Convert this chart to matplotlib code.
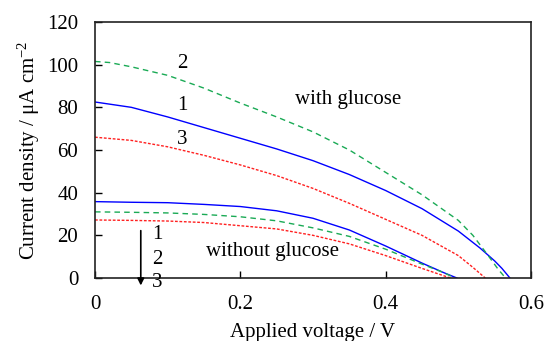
import matplotlib
matplotlib.use("Agg")
import matplotlib.pyplot as plt

plt.rcParams['font.family'] = ['Liberation Serif', 'DejaVu Serif']
plt.rcParams['mathtext.fontset'] = 'custom'
plt.rcParams['mathtext.rm'] = 'Liberation Serif'
plt.rcParams['mathtext.it'] = 'Liberation Serif:italic'

# With glucose
x_w1 = [0, 0.02, 0.05, 0.1, 0.15, 0.2, 0.25, 0.3, 0.35, 0.4, 0.45, 0.5, 0.53, 0.55, 0.56, 0.571]
y_w1 = [82.5, 81.5, 80, 75.5, 70.5, 65.5, 60.5, 55, 48.5, 41, 32.5, 22, 14, 8, 4.5, 0]
x_w2 = [0, 0.02, 0.05, 0.1, 0.15, 0.2, 0.25, 0.3, 0.35, 0.4, 0.45, 0.5, 0.52, 0.54, 0.555, 0.565]
y_w2 = [101.5, 101, 99, 95, 89, 82, 75.5, 68.5, 60, 49.5, 39, 27, 20, 11, 4, 0]
x_w3 = [0, 0.05, 0.1, 0.15, 0.2, 0.25, 0.3, 0.35, 0.4, 0.45, 0.5, 0.52, 0.537]
y_w3 = [66, 64.5, 61.5, 57.5, 53, 48, 42, 35, 27.5, 20, 10.5, 5, 0]

# Without glucose
x_n1 = [0, 0.05, 0.1, 0.15, 0.2, 0.25, 0.3, 0.35, 0.4, 0.45, 0.48, 0.498]
y_n1 = [35.8, 35.5, 35.3, 34.5, 33.5, 31.5, 28, 22.5, 15, 7, 2.5, 0]
x_n2 = [0, 0.05, 0.1, 0.15, 0.2, 0.25, 0.3, 0.35, 0.4, 0.45, 0.48, 0.495]
y_n2 = [31, 30.8, 30.5, 29.8, 28.7, 26.8, 23.5, 19.5, 13.5, 6.5, 2.5, 0]
x_n3 = [0, 0.05, 0.1, 0.15, 0.2, 0.25, 0.3, 0.35, 0.4, 0.45, 0.489]
y_n3 = [27.2, 27, 26.7, 26, 24.5, 23, 20, 16, 10.5, 4.5, 0]

xticks = [0, 0.2, 0.4, 0.6]
xticklabels = ['0', '0.2', '0.4', '0.6']
yticks = [0, 20, 40, 60, 80, 100, 120]

fig = plt.figure(figsize=(5.47, 3.41), dpi=100)
ax = fig.add_axes([95/547, 1-278/341, (531-95)/547, (278-22)/341])

blue = '#0000ff'
green = '#1aaa55'
red = '#ff2020'
lw = 1.0
ax.plot(x_w1, y_w1, color=blue, lw=lw)
ax.plot(x_w2, y_w2, color=green, lw=lw, dashes=(4, 3))
ax.plot(x_w3, y_w3, color=red, lw=lw, dashes=(2, 1.2))
ax.plot(x_n1, y_n1, color=blue, lw=lw)
ax.plot(x_n2, y_n2, color=green, lw=lw, dashes=(4, 3))
ax.plot(x_n3, y_n3, color=red, lw=lw, dashes=(2, 1.2))

ax.set_xlim(0, 0.6)
ax.set_ylim(0, 120)
ax.set_xticks(xticks)
ax.set_xticklabels(xticklabels)
ax.set_yticks(yticks)
ax.tick_params(direction='in', length=5, width=1, labelsize=15, pad=12, top=False, right=False)
for s in ax.spines.values():
    s.set_linewidth(1.2)
    s.set_color('#222222')

fs = 15
ax.text(0.12, 100.5, '2', fontsize=fs, ha='center', va='center')
ax.text(0.12, 81, '1', fontsize=fs, ha='center', va='center')
ax.text(0.12, 65, '3', fontsize=fs, ha='center', va='center')
ax.text(0.348, 83.5, 'with glucose', fontsize=fs, ha='center', va='center')
ax.text(0.244, 12.3, 'without glucose', fontsize=fs, ha='center', va='center')
ax.annotate('', xy=(0.063, -4.8), xytext=(0.063, 23.5),
            arrowprops=dict(arrowstyle='-|>', color='black', lw=1.2, mutation_scale=10),
            annotation_clip=False)
ax.text(0.086, 20.2, '1', fontsize=fs, ha='center', va='center', clip_on=False)
ax.text(0.086, 8.9, '2', fontsize=fs, ha='center', va='center', clip_on=False)
ax.text(0.086, -2.3, '3', fontsize=fs, ha='center', va='center', clip_on=False)

ax.set_xlabel('Applied voltage / V', fontsize=fs, labelpad=7)
ax.set_ylabel(r'Current density / μA cm$^{-2}$', fontsize=fs, labelpad=4)

fig.savefig('out.png', dpi=100)
